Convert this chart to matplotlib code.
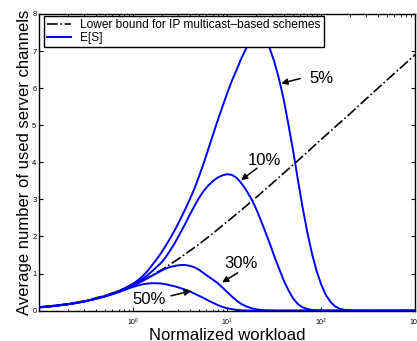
import numpy as np
import matplotlib
matplotlib.use("Agg")
import matplotlib.pyplot as plt

plt.rcParams['font.family'] = ['Liberation Sans', 'DejaVu Sans']

# lower bound for IP multicast-based schemes
x_lb = [0.1, 0.2, 0.3, 0.5, 0.7, 1, 1.5, 2, 3, 5, 7, 10, 15, 20, 30, 50, 70,
        100, 150, 200, 300, 500, 700, 1000]
y_lb = [0.10, 0.18, 0.26, 0.41, 0.53, 0.69, 0.92, 1.10, 1.39, 1.79, 2.08, 2.40,
        2.77, 3.04, 3.43, 3.93, 4.26, 4.62, 5.02, 5.30, 5.71, 6.22, 6.55, 6.91]

workload = [0.1, 0.126, 0.158, 0.2, 0.251, 0.316, 0.398, 0.501, 0.562, 0.631,
            0.708, 0.794, 0.891, 1.0, 1.12, 1.26, 1.41, 1.58, 1.78, 2.0, 2.24,
            2.51, 2.82, 3.16, 3.55, 3.98, 4.47, 5.01, 5.62, 6.31, 7.08, 7.94,
            8.91, 10.0, 11.2, 12.6, 14.1, 15.8, 17.8, 20.0, 22.4, 25.1, 28.2,
            31.6, 35.5, 39.8, 44.7, 50.1, 56.2, 63.1, 70.8, 79.4, 89.1, 100.0,
            112.0, 126.0, 141.0, 158.0, 178.0, 200.0, 224.0, 251.0, 1000.0]

es_5 = [0.09, 0.11, 0.14, 0.17, 0.21, 0.26, 0.32, 0.39, 0.43, 0.48, 0.53, 0.59,
        0.66, 0.73, 0.82, 0.93, 1.06, 1.22, 1.39, 1.57, 1.77, 1.98, 2.21, 2.46,
        2.72, 2.99, 3.29, 3.62, 3.98, 4.37, 4.76, 5.14, 5.51, 5.87, 6.20, 6.50,
        6.80, 7.06, 7.26, 7.38, 7.40, 7.30, 7.08, 6.72, 6.25, 5.70, 5.02, 4.32,
        3.55, 2.80, 2.13, 1.55, 1.07, 0.70, 0.42, 0.23, 0.11, 0.05, 0.02,
        0.007, 0.002, 0.0, 0.0]

es_10 = [0.09, 0.11, 0.14, 0.17, 0.21, 0.26, 0.32, 0.39, 0.43, 0.48, 0.53, 0.59,
         0.65, 0.71, 0.78, 0.86, 0.95, 1.06, 1.18, 1.30, 1.46, 1.65, 1.86, 2.09,
         2.33, 2.58, 2.82, 3.04, 3.23, 3.38, 3.50, 3.59, 3.65, 3.68, 3.66, 3.58,
         3.44, 3.26, 3.04, 2.78, 2.48, 2.16, 1.82, 1.47, 1.14, 0.82, 0.55, 0.33,
         0.18, 0.09, 0.045, 0.02, 0.008, 0.003, 0.0, 0.0, 0.0, 0.0, 0.0, 0.0,
         0.0, 0.0, 0.0]

es_30 = [0.09, 0.11, 0.14, 0.17, 0.21, 0.26, 0.32, 0.39, 0.43, 0.47, 0.52, 0.57,
         0.62, 0.68, 0.74, 0.80, 0.87, 0.94, 1.01, 1.08, 1.14, 1.18, 1.21, 1.23,
         1.23, 1.21, 1.17, 1.10, 1.01, 0.92, 0.83, 0.74, 0.62, 0.50, 0.38, 0.27,
         0.18, 0.12, 0.07, 0.04, 0.02, 0.01, 0.005, 0.0, 0.0, 0.0, 0.0, 0.0,
         0.0, 0.0, 0.0, 0.0, 0.0, 0.0, 0.0, 0.0, 0.0, 0.0, 0.0, 0.0, 0.0, 0.0,
         0.0]

es_50 = [0.09, 0.11, 0.14, 0.17, 0.21, 0.26, 0.32, 0.38, 0.42, 0.46, 0.50, 0.55,
         0.60, 0.64, 0.68, 0.71, 0.73, 0.74, 0.74, 0.73, 0.71, 0.68, 0.65, 0.61,
         0.57, 0.52, 0.46, 0.40, 0.34, 0.27, 0.21, 0.15, 0.10, 0.065, 0.04, 0.02,
         0.01, 0.004, 0.0, 0.0, 0.0, 0.0, 0.0, 0.0, 0.0, 0.0, 0.0, 0.0, 0.0,
         0.0, 0.0, 0.0, 0.0, 0.0, 0.0, 0.0, 0.0, 0.0, 0.0, 0.0, 0.0, 0.0, 0.0]

labels = ['5%', '10%', '30%', '50%']
# (text position, arrow tail, arrow tip) in data coords
notes = [((100, 6.27), (59.8, 6.26), (37.5, 6.13)),
         ((24.9, 4.06), (20.7, 3.84), (14.0, 3.52)),
         ((14.0, 1.26), (12.9, 1.02), (8.8, 0.76)),
         ((1.46, 0.31), (2.52, 0.40), (4.11, 0.53))]

fig = plt.figure(figsize=(4.17, 3.41), dpi=100)
ax = fig.add_axes([0.094, 0.089, 0.902, 0.870])

blue = '#0000ff'
ax.plot(x_lb, y_lb, color='black', ls='-.', lw=1.2,
        label='Lower bound for IP multicast\u2013based schemes')
ax.plot(workload, es_5, color=blue, lw=1.4, label='E[S]')
for es in (es_10, es_30, es_50):
    ax.plot(workload, es, color=blue, lw=1.4)

for lab, (txt, tail, tip) in zip(labels, notes):
    ax.text(txt[0], txt[1], lab, fontsize=12, ha='center', va='center')
    ax.annotate('', xy=tip, xytext=tail,
                arrowprops=dict(arrowstyle='-|>', color='black', lw=1.1,
                                mutation_scale=9, shrinkA=0, shrinkB=0))

ax.set_xscale('log')
ax.set_xlim(0.1, 1000)
ax.set_ylim(0, 8)
ax.set_xticks([1, 10, 100, 1000])
ax.set_yticks(range(0, 9))
ax.tick_params(which='both', direction='in', top=True, right=True)
ax.tick_params(which='major', labelsize=5.5, length=3, pad=2)
ax.tick_params(which='minor', length=1.8)
ax.tick_params(axis='x', labelsize=5, pad=4)
for sp in ax.spines.values():
    sp.set_linewidth(1.0)

ax.set_xlabel('Normalized workload', fontsize=12, labelpad=0)
ax.set_ylabel('Average number of used server channels', fontsize=12, labelpad=0)

leg = ax.legend(loc='upper left', bbox_to_anchor=(0.012, 0.994), fontsize=8.6,
                fancybox=False, edgecolor='black', framealpha=1,
                borderaxespad=0, handlelength=2.0, labelspacing=0.1,
                borderpad=0.25, handletextpad=0.8)
leg.get_frame().set_linewidth(1.0)

fig.savefig('out.png', dpi=100)
